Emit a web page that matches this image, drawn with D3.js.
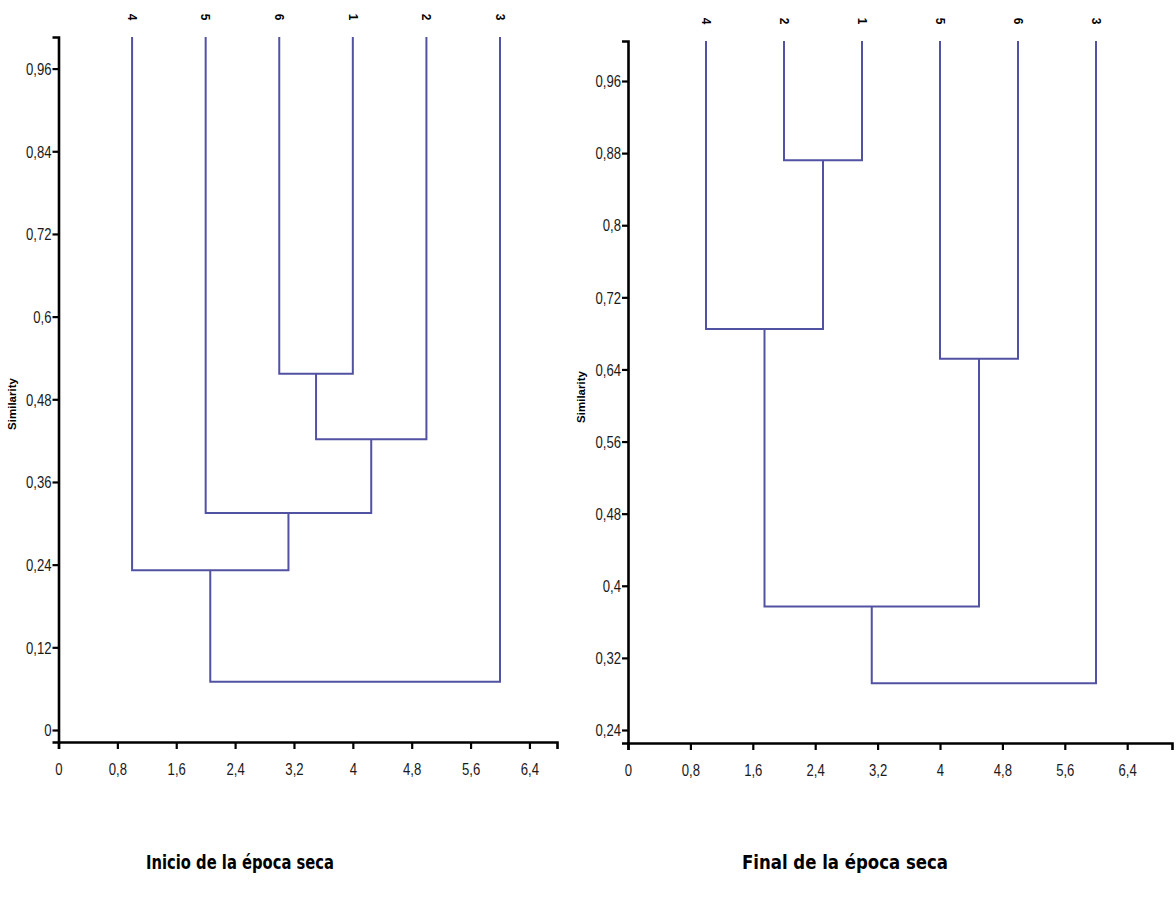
<!DOCTYPE html>
<html>
<head>
<meta charset="utf-8">
<script src="https://cdn.jsdelivr.net/npm/d3@7"></script>
<style>
  body { margin: 0; background: #fff; }
  .tick text { font-family: "Liberation Sans", Arial, sans-serif; font-size: 16px; fill: #1a1a1a; }
  .leaf { font-family: "Liberation Sans", Arial, sans-serif; font-size: 12px; font-weight: bold; }
  .ylab { font-family: "Liberation Sans", Arial, sans-serif; font-size: 11.5px; font-weight: bold; }
  .title { font-family: "DejaVu Sans", Verdana, sans-serif; font-size: 19px; font-weight: bold; }
  .link { fill: none; stroke: #5252a2; stroke-width: 2; }
</style>
</head>
<body>
<div id="chart"></div>
<script>
// leaf order and merge heights
var leftLeaves = ['4', '5', '6', '1', '2', '3'];
var leftMerges = [
  {a: '6', b: '1', h: 0.517},
  {a: 'n0', b: '2', h: 0.422},
  {a: '5', b: 'n1', h: 0.315},
  {a: '4', b: 'n2', h: 0.232},
  {a: 'n3', b: '3', h: 0.070}
];
var leftYTicks = [0, 0.12, 0.24, 0.36, 0.48, 0.6, 0.72, 0.84, 0.96];

var rightLeaves = ['4', '2', '1', '5', '6', '3'];
var rightMerges = [
  {a: '2', b: '1', h: 0.872},
  {a: '5', b: '6', h: 0.652},
  {a: '4', b: 'n0', h: 0.685},
  {a: 'n2', b: 'n1', h: 0.377},
  {a: 'n3', b: '3', h: 0.292}
];
var rightYTicks = [0.24, 0.32, 0.4, 0.48, 0.56, 0.64, 0.72, 0.8, 0.88, 0.96];

var xTicks = [0, 0.8, 1.6, 2.4, 3.2, 4, 4.8, 5.6, 6.4];
var titles = ['Inicio de la época seca', 'Final de la época seca'];

var W = 1176, H = 901;
var squeeze = 0.82; // tick labels look condensed

var svg = d3.select('#chart').append('svg')
            .attr('width', W)
            .attr('height', H);

var panels = [
  {leaves: leftLeaves, merges: leftMerges, yTicks: leftYTicks, title: titles[0],
   x0: 58.5, x6: 500, yA: 730, yB: 68.6, top: 37, bottom: 742, right: 557,
   labX: 16, labY: 404, titleX: 240, titleLen: 188},
  {leaves: rightLeaves, merges: rightMerges, yTicks: rightYTicks, title: titles[1],
   x0: 628, x6: 1096, yA: 730, yB: 81, top: 41, bottom: 743, right: 1172,
   labX: 585, labY: 397, titleX: 845, titleLen: 206}
];

panels.forEach(drawPanel);

function fmt(v) { return String(v).replace('.', ','); }

function drawPanel(p) {
  var yt = p.yTicks;
  var y = d3.scaleLinear().domain([yt[0], yt[yt.length - 1]]).range([p.yA, p.yB]);
  var yLo = y.invert(p.bottom), yHi = y.invert(p.top);
  y.domain([yLo, yHi]).range([p.bottom, p.top]);

  var x = d3.scaleLinear().domain([0, 6]).range([p.x0, p.x6]);
  x.domain([0, x.invert(p.right)]).range([p.x0, p.right]);

  var g = svg.append('g');

  // axes
  var yAxis = d3.axisLeft(y).tickValues(yt).tickSizeOuter(0).tickSize(6).tickFormat(fmt);
  var xAxis = d3.axisBottom(x).tickValues(xTicks).tickSizeOuter(0).tickSize(7).tickPadding(15).tickFormat(fmt);

  var ya = g.append('g').attr('transform', 'translate(' + x(0) + ',0)').call(yAxis);
  var xa = g.append('g').attr('transform', 'translate(0,' + p.bottom + ')').call(xAxis);
  [ya, xa].forEach(function(a) {
    a.select('.domain').attr('stroke', '#000').attr('stroke-width', 2.6);
    a.selectAll('.tick line').attr('stroke', '#000').attr('stroke-width', 2.2);
    a.selectAll('.tick text').attr('transform', 'scale(' + squeeze + ',1)');
  });
  ya.selectAll('.tick text').attr('x', -7 / squeeze).attr('dy', '0.36em');

  // dendrogram
  var nodes = {};
  p.leaves.forEach(function(l, i) { nodes[l] = {x: i + 1, h: yHi}; });
  p.merges.forEach(function(m, i) {
    var a = nodes[m.a], b = nodes[m.b];
    g.append('path')
     .attr('class', 'link')
     .attr('d', 'M' + x(a.x) + ',' + y(a.h) + 'V' + y(m.h) + 'H' + x(b.x) + 'V' + y(b.h));
    nodes['n' + i] = {x: (a.x + b.x) / 2, h: m.h};
  });

  // leaf labels
  g.selectAll('.leaf')
   .data(p.leaves)
   .enter()
   .append('text')
   .attr('class', 'leaf')
   .attr('text-anchor', 'middle')
   .attr('dy', '0.35em')
   .attr('transform', function(d, i) { return 'translate(' + x(i + 1) + ',' + (p.top - 20) + ') rotate(90)'; })
   .text(function(d) { return d; });

  g.append('text')
   .attr('class', 'ylab')
   .attr('text-anchor', 'middle')
   .attr('transform', 'translate(' + p.labX + ',' + p.labY + ') rotate(-90)')
   .text('Similarity');

  g.append('text')
   .attr('class', 'title')
   .attr('x', p.titleX)
   .attr('y', 869)
   .attr('text-anchor', 'middle')
   .attr('textLength', p.titleLen)
   .attr('lengthAdjust', 'spacingAndGlyphs')
   .text(p.title);
}
</script>
</body>
</html>
